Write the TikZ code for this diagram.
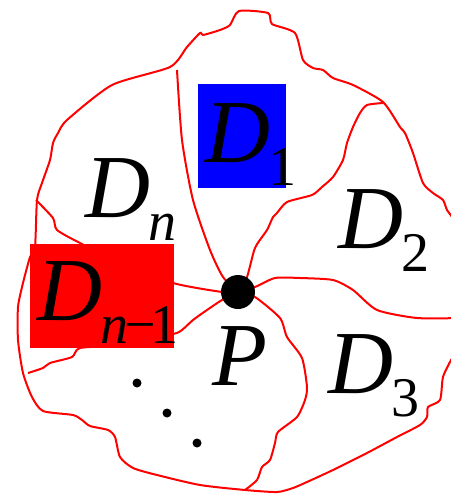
\documentclass[tikz,border=0pt]{standalone}
\usepackage{fontspec}
\setmainfont{Liberation Serif}
\newcommand{\dom}[1]{\textit{D}\kern-1pt\raisebox{-11.5pt}{\fontsize{28}{30}\selectfont #1}}
\tikzset{
  rim/.style={red, line width=1pt},
  dlabel/.style={anchor=base west, inner sep=0pt, font=\fontsize{45}{50}\selectfont},
}
\begin{document}
\begin{tikzpicture}[x=0.5pt, y=-0.5pt]
            \useasboundingbox (0,0) rectangle (451,494);
            \clip (0,0) rectangle (451,494);
            \coordinate (c) at (238,292);
            % outer boundary
            \draw[rim] plot[smooth cycle, tension=0.4] coordinates {(239,11) (268,13) (272,24) (295,33) (303,60) (313,68) (323,70) (333,78) (353,85) (383,102) (400,127) (405,133) (413,153) (423,183) (433,193) (443,200) (447,210) (455,225) (462,290) (456,350) (451,360) (443,377) (440,400) (428,407) (427,417) (420,425) (397,437) (367,453) (333,470) (307,482) (293,488) (277,492) (245,490) (200,485) (157,475) (133,468) (120,457) (115,437) (108,430) (90,426) (82,420) (73,415) (43,411) (32,397) (23,373) (18,340) (18,307) (23,283) (30,257) (35,247) (37,200) (42,183) (50,160) (53,143) (58,133) (67,120) (112,85) (170,67) (187,47) (200,33) (203,35) (220,30) (230,25)};
            % curves from P
            \draw[rim] plot[smooth, tension=0.4] coordinates {(c) (223,277) (210,250) (193,200) (182,140) (177,70)};
            \draw[rim] plot[smooth, tension=0.4] coordinates {(c) (247,277) (255,248) (267,230) (273,217) (277,213) (287,202) (312,195) (322,187) (333,177) (343,160) (347,143) (353,127) (360,113) (367,105) (383,103)};
            \draw[rim] plot[smooth, tension=0.4] coordinates {(c) (255,287) (275,278) (300,278) (333,280) (353,290) (377,310) (417,318) (460,318)};
            \draw[rim] plot[smooth, tension=0.4] coordinates {(c) (255,297) (280,318) (287,337) (302,358) (307,387) (305,400) (297,417) (278,432) (275,443) (270,460) (262,467) (257,480) (245,490)};
            \draw[rim] plot[smooth, tension=0.4] coordinates {(c) (222,292) (173,283) (120,262) (80,243) (57,230) (53,218) (36,200)};
            \draw[rim] plot[smooth, tension=0.4] coordinates {(c) (222,300) (207,310) (193,320) (182,330) (173,334) (120,345) (80,348) (72,357) (50,363) (43,368) (28,373)};
            % boxes and labels
            \fill[blue] (198,84) rectangle (286,188);
            \fill[red] (30,244) rectangle (174,348);
            \node[dlabel] (d1) at (205,162) {\dom{1}};
            \node[dlabel] (dn) at (85,217) {\dom{\textit{n}}};
            \node[dlabel] (d2) at (338,248) {\dom{2}};
            \node[dlabel] (d3) at (328,393) {\dom{3}};
            \node[dlabel] (dnm1) at (37,320) {\dom{\textit{n}\kern-2pt−\kern-2.5pt1}};
            \node[dlabel] (plabel) at (212,385) {\textit{P}};
            \node[circle, fill, inner sep=0pt, minimum size=17pt] (P) at (c) {};
            \fill (137,383) circle (4.5) (167,413) circle (4.5) (197,443) circle (4.5);
\end{tikzpicture}
\end{document}
